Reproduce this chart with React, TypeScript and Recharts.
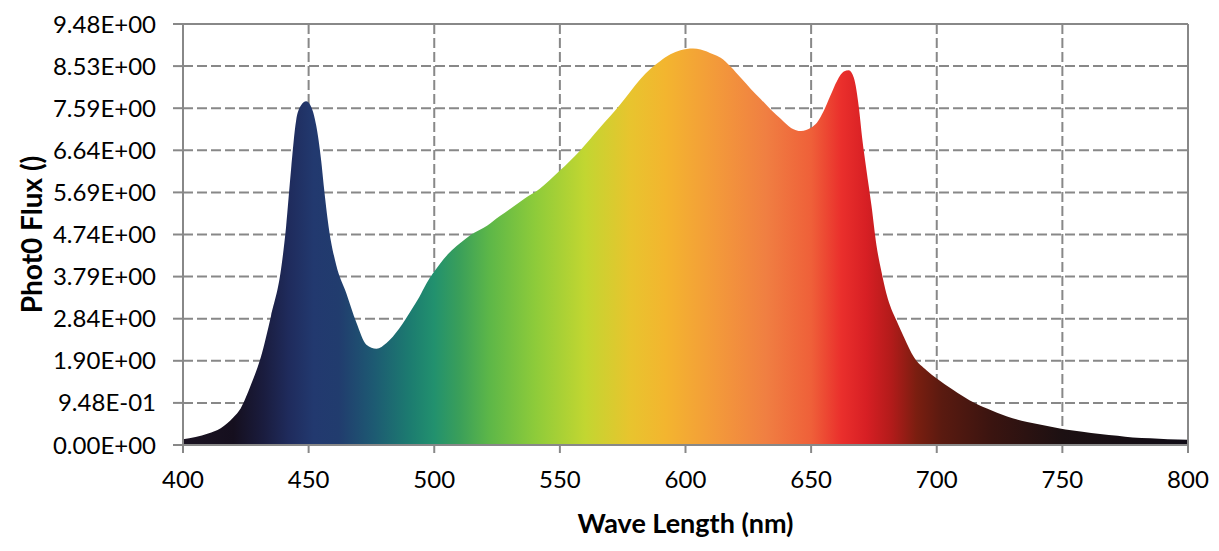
import React from 'react';
import { AreaChart, Area, XAxis, YAxis, CartesianGrid, ReferenceLine, Label } from 'recharts';

const wavelengths: number[] = [
  400, 405, 410, 415, 420, 423, 427, 431, 435, 439, 441, 443, 445, 447, 449, 451, 453, 455, 456, 458,
  461, 465, 469, 473, 477, 481, 486, 491, 494, 497, 502, 506, 510, 515, 521, 526, 531, 536, 542, 550,
  558, 566, 574, 582, 586, 590, 594, 598, 603, 606, 611, 614, 618, 622, 626, 630, 634, 638, 642, 646,
  650, 652.3, 655, 657.6, 660.3, 663, 665, 667, 669, 670.3, 672, 674, 676, 678, 680, 682, 684, 687, 691, 696,
  700, 706.6, 713, 720, 728, 736, 744, 749, 758, 765, 772, 778, 785, 792, 800,
];

const flux: number[] = [
  0.13, 0.18, 0.26, 0.38, 0.62, 0.83, 1.35, 1.98, 2.9, 3.95, 4.9, 6.2, 7.3, 7.65, 7.74, 7.62, 7.2, 6.4, 5.85, 4.9,
  4.05, 3.42, 2.76, 2.26, 2.17, 2.3, 2.62, 3.05, 3.33, 3.65, 4.06, 4.33, 4.53, 4.75, 4.94, 5.15, 5.35, 5.55, 5.77, 6.18,
  6.63, 7.15, 7.67, 8.24, 8.47, 8.65, 8.8, 8.89, 8.93, 8.91, 8.8, 8.72, 8.52, 8.27, 8.02, 7.79, 7.55, 7.34, 7.14, 7.07,
  7.15, 7.26, 7.52, 7.86, 8.2, 8.41, 8.44, 8.27, 7.6, 6.92, 6.2, 5.4, 4.5, 3.9, 3.4, 3.05, 2.8, 2.42, 1.97, 1.68,
  1.5, 1.24, 1.01, 0.82, 0.64, 0.52, 0.43, 0.37, 0.3, 0.25, 0.21, 0.17, 0.15, 0.13, 0.12,
];

const xTicks: number[] = [400, 450, 500, 550, 600, 650, 700, 750, 800];
const yTicks: number[] = [0, 0.9482, 1.8964, 2.8446, 3.7928, 4.741, 5.6892, 6.6374, 7.5856, 8.5338, 9.482];

const gradientStops: { nm: number; color: string }[] = [
  { nm: 400, color: '#1b1322' },
  { nm: 420, color: '#150f1e' },
  { nm: 432, color: '#1a1c3e' },
  { nm: 442, color: '#1f2b5c' },
  { nm: 452, color: '#22396f' },
  { nm: 462, color: '#213c6e' },
  { nm: 476, color: '#1d5a72' },
  { nm: 490, color: '#1c7b70' },
  { nm: 500, color: '#22916e' },
  { nm: 510, color: '#3a9f5a' },
  { nm: 522, color: '#5db748' },
  { nm: 540, color: '#8dcb3a' },
  { nm: 560, color: '#c2d631' },
  { nm: 578, color: '#e8c42e' },
  { nm: 592, color: '#f3b52f' },
  { nm: 612, color: '#f39a3a' },
  { nm: 632, color: '#f07f42' },
  { nm: 650, color: '#ef6039' },
  { nm: 662, color: '#ea2f2c' },
  { nm: 672, color: '#d71f24' },
  { nm: 682, color: '#b21b1a' },
  { nm: 692, color: '#7a1e10' },
  { nm: 702, color: '#5a1a10' },
  { nm: 722, color: '#3a1410' },
  { nm: 750, color: '#1c1012' },
  { nm: 800, color: '#100c16' },
];

const data = wavelengths.map((nm, i) => ({ nm, flux: flux[i] }));

const fmt = (v: number): string => {
  if (v === 0) return '0.00E+00';
  const [m, e] = v.toExponential(2).split('e');
  const n = parseInt(e, 10);
  const sign = n < 0 ? '-' : '+';
  const abs = Math.abs(n);
  return `${m.toUpperCase()}E${sign}${abs < 10 ? '0' + abs : abs}`;
};

const FONT = 'Lato, "Open Sans", sans-serif';
const GRID = '#888888';

export default function App() {
  return (
    <div style={{ position: 'absolute', left: 0, top: 0, background: '#fff' }}>
      <AreaChart width={1219} height={551} data={data} margin={{ top: 24, right: 31, bottom: 0, left: 0 }}>
        <defs>
          <linearGradient id="spectrum" x1="0" y1="0" x2="1" y2="0">
            {gradientStops.map((s) => (
              <stop key={s.nm} offset={`${((s.nm - 400) / 400) * 100}%`} stopColor={s.color} />
            ))}
          </linearGradient>
        </defs>
        <CartesianGrid stroke={GRID} strokeWidth={2} strokeDasharray="10 4" />
        <XAxis
          dataKey="nm"
          type="number"
          domain={[400, 800]}
          ticks={xTicks}
          height={106}
          tickSize={8}
          tickMargin={18}
          axisLine={{ stroke: GRID, strokeWidth: 2 }}
          tickLine={{ stroke: GRID, strokeWidth: 2 }}
          tick={{ fill: '#000', fontSize: 24, fontFamily: FONT }}
          interval={0}
        >
          <Label
            value="Wave Length (nm)"
            position="insideBottom"
            offset={18}
            style={{ fill: '#000', fontSize: 27, fontWeight: 700, fontFamily: FONT }}
          />
        </XAxis>
        <YAxis
          type="number"
          domain={[0, 9.482]}
          ticks={yTicks}
          width={183}
          tickSize={10}
          tickMargin={17}
          tickFormatter={fmt}
          axisLine={{ stroke: GRID, strokeWidth: 2 }}
          tickLine={{ stroke: GRID, strokeWidth: 2 }}
          tick={{ fill: '#000', fontSize: 24, fontFamily: FONT }}
          interval={0}
        >
          <Label
            value="Phot0 Flux ()"
            angle={-90}
            position="insideLeft"
            offset={32}
            style={{ fill: '#000', fontSize: 28, fontWeight: 700, fontFamily: FONT, textAnchor: 'middle' }}
          />
        </YAxis>
        <Area
          type="monotone"
          dataKey="flux"
          stroke="none"
          fill="url(#spectrum)"
          fillOpacity={1}
          isAnimationActive={false}
        />
        <ReferenceLine y={9.482} stroke={GRID} strokeWidth={2} />
        <ReferenceLine x={800} stroke={GRID} strokeWidth={2} />
      </AreaChart>
    </div>
  );
}
